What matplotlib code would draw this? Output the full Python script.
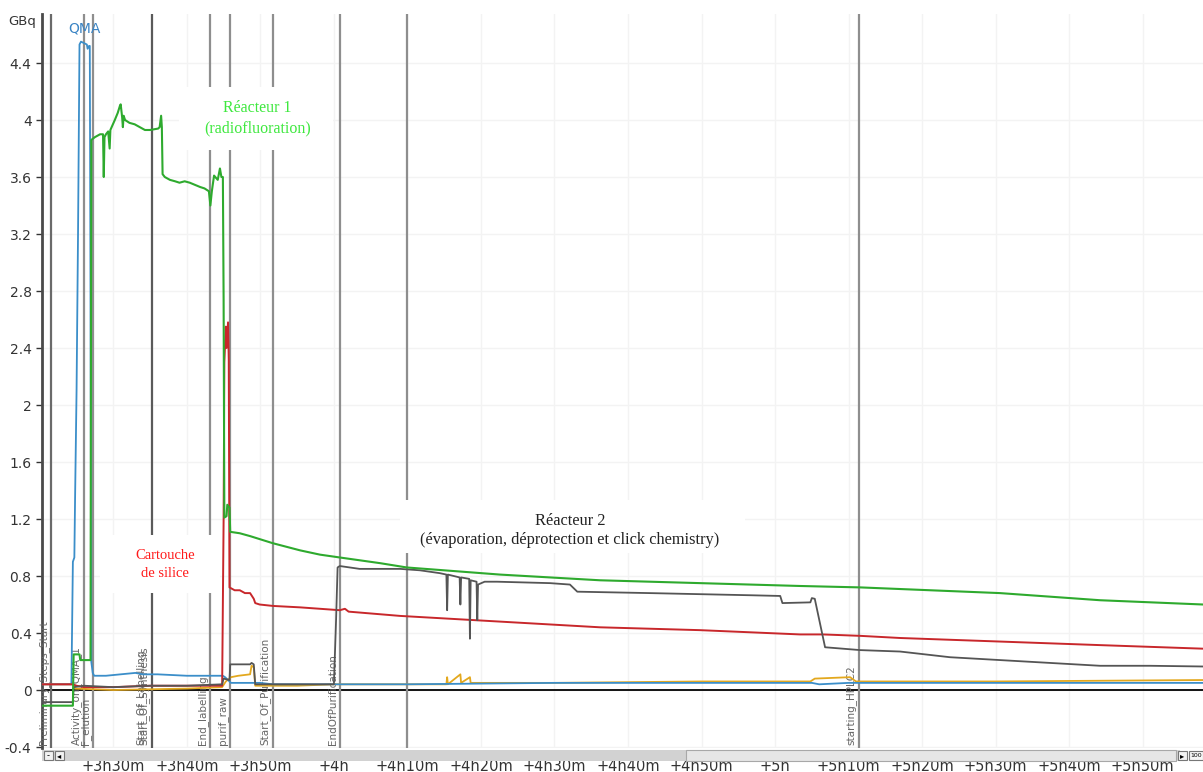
import numpy as np
import matplotlib
matplotlib.use("Agg")
import matplotlib.pyplot as plt
from matplotlib.patches import Rectangle
from matplotlib.ticker import FixedLocator, FuncFormatter

# time in minutes after start, activity in GBq
green_t = [200.3, 204.5, 204.6, 205.4, 205.5, 206.9, 207.0, 207.5, 208.2, 208.6, 208.7, 208.8, 209.0,
           209.3, 209.5, 209.6, 210.2, 210.6, 210.9, 211.0, 211.2, 211.3, 211.4, 211.6, 212.2, 212.9,
           213.6, 214.3, 215.0, 216.1, 216.3, 216.5, 216.6, 216.7, 217.0, 217.7, 218.4, 219.0, 219.7,
           220.4, 221.8, 222.4, 223.0, 223.2, 223.4, 223.7, 224.2, 224.5, 224.7, 224.9, 225.0, 225.1,
           225.4, 225.5, 225.8, 225.9, 227.2, 228.6, 231.7, 235.4, 238.1, 240.8, 246.3, 249.9, 262.6,
           276.2, 289.8, 303.4, 311.6, 330.6, 344.2, 358.2]
green_v = [-0.11, -0.11, 0.25, 0.25, 0.21, 0.21, 3.86, 3.88, 3.9, 3.9, 3.6, 3.88, 3.9,
           3.92, 3.8, 3.93, 4.0, 4.05, 4.1, 4.11, 4.02, 3.95, 4.03, 4.0, 3.98, 3.97,
           3.95, 3.93, 3.93, 3.94, 3.95, 4.03, 3.95, 3.62, 3.6, 3.58, 3.57, 3.56, 3.57,
           3.56, 3.53, 3.52, 3.5, 3.4, 3.5, 3.61, 3.58, 3.66, 3.6, 3.6, 2.74, 1.21,
           1.22, 1.3, 1.28, 1.11, 1.1, 1.08, 1.03, 0.98, 0.95, 0.93, 0.89, 0.86, 0.81,
           0.77, 0.75, 0.73, 0.72, 0.68, 0.63, 0.6]

blue_t = [200.3, 204.3, 204.5, 204.7, 204.8, 205.0, 205.2, 205.4, 205.6, 206.0, 206.4, 206.5, 206.7,
          206.8, 206.9, 207.0, 207.2, 207.4, 209.0, 211.0, 213.0, 214.0, 216.0, 220.0, 224.9, 225.2,
          225.8, 226.0, 230.0, 231.7, 240.0, 250.0, 270.0, 300.0, 305.0, 306.0, 310.0, 358.2]
blue_v = [0.04, 0.04, 0.9, 0.93, 1.35, 2.1, 3.2, 4.53, 4.55, 4.54, 4.53, 4.5, 4.52,
          4.52, 2.7, 0.2, 0.12, 0.1, 0.1, 0.11, 0.12, 0.11, 0.11, 0.1, 0.1, 0.09,
          0.06, 0.05, 0.05, 0.04, 0.04, 0.04, 0.05, 0.05, 0.05, 0.04, 0.05, 0.05]

red_t = [200.3, 204.5, 205.0, 206.0, 210.0, 215.0, 220.0, 224.8, 225.0, 225.1, 225.3, 225.4, 225.6,
         225.7, 225.8, 226.5, 227.2, 227.9, 228.6, 229.1, 229.3, 229.9, 231.7, 235.4, 240.8, 241.5,
         242.0, 249.0, 262.6, 276.2, 289.8, 303.4, 306.5, 311.6, 317.0, 330.6, 344.2, 358.2]
red_v = [0.04, 0.04, 0.03, 0.02, 0.02, 0.03, 0.03, 0.03, 1.2, 2.3, 2.55, 2.4, 2.58,
         2.32, 0.72, 0.7, 0.7, 0.68, 0.68, 0.64, 0.61, 0.6, 0.59, 0.58, 0.56, 0.57,
         0.55, 0.52, 0.48, 0.44, 0.42, 0.39, 0.39, 0.38, 0.365, 0.34, 0.315, 0.29]

gray_t = [200.3, 204.5, 204.6, 206.0, 210.0, 215.0, 220.0, 224.8, 225.0, 225.8, 225.9, 228.6, 228.8,
          229.1, 229.3, 240.0, 240.3, 240.5, 240.8, 243.5, 249.0, 251.7, 254.4, 255.3, 255.4, 255.5,
          257.1, 257.2, 257.3, 258.4, 258.5, 258.6, 259.4, 259.5, 259.6, 260.5, 262.2, 269.4, 272.1,
          273.1, 283.0, 296.6, 300.7, 301.0, 304.8, 305.0, 305.4, 306.8, 311.6, 317.0, 323.8, 330.6,
          337.4, 344.2, 351.0, 358.2]
gray_v = [-0.085, -0.085, 0.02, 0.03, 0.02, 0.03, 0.03, 0.04, 0.08, 0.07, 0.18, 0.18, 0.19,
          0.18, 0.04, 0.04, 0.5, 0.86, 0.87, 0.85, 0.85, 0.84, 0.82, 0.81, 0.56, 0.81,
          0.79, 0.6, 0.79, 0.78, 0.36, 0.77, 0.76, 0.49, 0.74, 0.76, 0.76, 0.75, 0.74,
          0.69, 0.68, 0.665, 0.66, 0.61, 0.615, 0.645, 0.64, 0.3, 0.28, 0.27, 0.23, 0.21,
          0.19, 0.17, 0.17, 0.165]

orange_t = [200.3, 204.5, 204.8, 210.0, 215.0, 220.0, 224.8, 225.3, 226.0, 227.0, 228.6, 228.8, 229.1,
            229.3, 235.0, 240.0, 255.3, 255.4, 255.5, 257.2, 257.3, 258.5, 258.6, 270.0, 290.0, 304.8,
            305.4, 310.2, 311.0, 330.0, 358.2]
orange_v = [0.04, 0.04, 0.01, 0.0, 0.005, 0.01, 0.02, 0.06, 0.09, 0.1, 0.11, 0.17, 0.16,
            0.03, 0.03, 0.04, 0.04, 0.09, 0.04, 0.11, 0.05, 0.09, 0.05, 0.05, 0.06, 0.06,
            0.08, 0.09, 0.06, 0.06, 0.07]

event_t = [201.5, 206.0, 207.2, 215.2, 223.1, 225.9, 231.7, 240.8, 249.9, 311.4]
event_labels = ["Preliminary_Steps_Start", "Activity_on_QMA_1", "F_elution", "Start_Of_Synthesis",
                "End_labelling", "purif_raw", "Start_Of_Purification", "EndOfPurification", "",
                "starting_HPLC2"]
event_colors = ["#6a6a6a", "#8e8e8e", "#8e8e8e", "#5a5a5a", "#8e8e8e", "#8e8e8e", "#8e8e8e",
                "#8e8e8e", "#8e8e8e", "#8e8e8e"]

y_ticks = [-0.4, 0, 0.4, 0.8, 1.2, 1.6, 2, 2.4, 2.8, 3.2, 3.6, 4, 4.4]
x_ticks = [210, 220, 230, 240, 250, 260, 270, 280, 290, 300, 310, 320, 330, 340, 350]


def fmt_time(t, pos=None):
    h = int(t // 60)
    m = int(round(t - h * 60))
    if m == 0:
        return "+%dh" % h
    return "+%dh%dm" % (h, m)


def fmt_y(v, pos=None):
    return ("%.1f" % v).rstrip("0").rstrip(".") if v != 0 else "0"


W, H = 1203, 772
fig = plt.figure(figsize=(W / 100, H / 100), dpi=100)
ax = fig.add_axes([42 / W, 1 - 748 / H, (W - 42) / W, (748 - 14) / H])

ax.set_xlim(200.3, 358.2)
ax.set_ylim(-0.407, 4.744)

ax.yaxis.set_major_locator(FixedLocator(y_ticks))
ax.yaxis.set_major_formatter(FuncFormatter(fmt_y))
ax.xaxis.set_major_locator(FixedLocator(x_ticks))
ax.xaxis.set_major_formatter(FuncFormatter(fmt_time))
ax.grid(True, color="#f3f3f3", linewidth=1.0, zorder=0)
ax.tick_params(axis="y", labelsize=10, colors="#333333", length=4, width=1, direction="out")
ax.tick_params(axis="x", labelsize=10.5, colors="#333333", length=0, pad=8)
for s in ["top", "right", "bottom"]:
    ax.spines[s].set_visible(False)
ax.spines["left"].set_color("#4a4a4a")
ax.spines["left"].set_linewidth(2)

ax.axhline(0, color="black", linewidth=1.3, zorder=2)

for t, lab, c in zip(event_t, event_labels, event_colors):
    ax.axvline(t, color=c, linewidth=1.6, zorder=2)
    if lab:
        ax.annotate(lab, xy=(t, 0), xycoords=("data", "axes fraction"), xytext=(-1.5, 2),
                    textcoords="offset points", rotation=90, ha="right", va="bottom",
                    fontsize=7.5, color="#666666", zorder=3)
# second overlapping label at the synthesis marker
ax.annotate("Start_Of_Labelling", xy=(215.2, 0), xycoords=("data", "axes fraction"),
            xytext=(-4, 2), textcoords="offset points", rotation=90, ha="right", va="bottom",
            fontsize=7.5, color="#666666", zorder=3)

ax.plot(orange_t, orange_v, color="#e3a81e", linewidth=1.3, zorder=4)
ax.plot(blue_t, blue_v, color="#3b8ec9", linewidth=1.3, zorder=4)
ax.plot(red_t, red_v, color="#c8272b", linewidth=1.4, zorder=4)
ax.plot(gray_t, gray_v, color="#555555", linewidth=1.3, zorder=4)
ax.plot(green_t, green_v, color="#2eaa2e", linewidth=1.5, zorder=4)

# white annotation boxes
ax.add_patch(Rectangle((219.0, 3.79), 20.9, 0.44, facecolor="white", edgecolor="none", zorder=5))
ax.add_patch(Rectangle((208.2, 0.68), 16.3, 0.41, facecolor="white", edgecolor="none", zorder=5))
ax.add_patch(Rectangle((249.0, 0.96), 46.9, 0.373, facecolor="white", edgecolor="none", zorder=5))

ax.text(229.6, 4.01, "Réacteur 1\n(radiofluoration)", ha="center", va="center", color="#3ee83e",
        fontsize=11.5, family="Liberation Serif", linespacing=1.35, zorder=6)
ax.text(217.0, 0.88, "Cartouche\nde silice", ha="center", va="center", color="#ff1a1a",
        fontsize=10.5, family="Liberation Serif", linespacing=1.55, zorder=6)
ax.text(272.1, 1.12, "Réacteur 2\n(évaporation, déprotection et click chemistry)", ha="center",
        va="center", color="#222222", fontsize=11.8, family="Liberation Serif", linespacing=1.3,
        zorder=6)
ax.text(206.1, 4.645, "QMA", ha="center", va="center", color="#3a84c4", fontsize=10, zorder=6)

fig.text(22 / W, 1 - 22 / H, "GBq", ha="center", va="center", fontsize=9.5, color="#333333")

# scrollbar strip under the plot
def px_rect(x0, y0, w, h, **kw):
    fig.add_artist(Rectangle((x0 / W, 1 - (y0 + h) / H), w / W, h / H,
                             transform=fig.transFigure, **kw))

px_rect(42, 750, 1138, 11, facecolor="#d2d2d2", edgecolor="none")
px_rect(686, 750, 490, 11, facecolor="#e6e6e6", edgecolor="#a8a8a8", linewidth=0.8)
px_rect(44, 751, 9, 9, facecolor="#f2f2f2", edgecolor="#777777", linewidth=0.8)
px_rect(55, 751, 9, 9, facecolor="#f2f2f2", edgecolor="#777777", linewidth=0.8)
px_rect(1178, 751, 9, 9, facecolor="#f2f2f2", edgecolor="#777777", linewidth=0.8)
px_rect(1189, 751, 14, 9, facecolor="#f7f7f7", edgecolor="#777777", linewidth=0.8)
fig.text(48.5 / W, 1 - 755.5 / H, "-", ha="center", va="center", fontsize=6, color="black")
fig.text(59.5 / W, 1 - 755.5 / H, "◂", ha="center", va="center", fontsize=6, color="black")
fig.text(1182.5 / W, 1 - 755.5 / H, "▸", ha="center", va="center", fontsize=6, color="black")
fig.text(1196 / W, 1 - 755.5 / H, "100", ha="center", va="center", fontsize=4.5, color="black")

fig.savefig("out.png", dpi=100)
